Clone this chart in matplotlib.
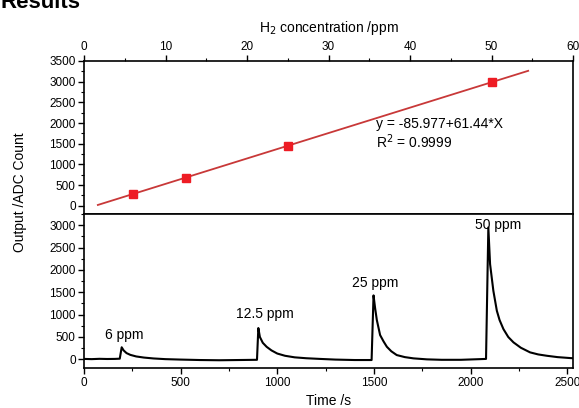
import matplotlib
matplotlib.use('Agg')
import matplotlib.pyplot as plt
from matplotlib.ticker import MultipleLocator
import numpy as np

plt.rcParams['font.family'] = ['Liberation Sans', 'DejaVu Sans']
plt.rcParams['font.size'] = 8.5

# calibration points (top panel)
conc_ppm = [6, 12.5, 25, 50]
cal_output = [282, 682, 1450, 2986]
fit_intercept = -85.977
fit_slope = 61.44
fit_range = [1.7, 54.5]

# sensor response trace (bottom panel)
time_s = [0, 40, 80, 120, 160, 185, 195, 205, 220, 240, 270, 310, 360, 420,
          500, 600, 700, 800, 895, 902, 910, 925, 945, 970, 1000, 1040, 1090,
          1150, 1220, 1300, 1400, 1488, 1498, 1506, 1515, 1532, 1550, 1567,
          1590, 1618, 1660, 1705, 1774, 1850, 1950, 2050, 2080, 2092, 2101,
          2118, 2136, 2150, 2170, 2195, 2222, 2260, 2308, 2350, 2395, 2450,
          2515, 2530]
output = [10, 5, 12, 8, 10, 15, 270, 200, 140, 100, 65, 40, 20, 5,
          -5, -15, -20, -15, -10, 700, 500, 370, 280, 200, 130, 80, 45,
          25, 10, -5, -15, -15, 1430, 1150, 880, 543, 400, 281,
          180, 96, 50, 22, 0, -10, -10, 5, 10, 2950, 2128,
          1532, 1086, 880, 677, 500, 380, 260, 156, 110, 80, 50,
          29, 25]

peak_labels = ['6 ppm', '12.5 ppm', '25 ppm', '50 ppm']
label_t = [207, 935, 1504, 2142]
label_v = [543, 1012, 1698, 3006]

fig = plt.figure(figsize=(5.79, 4.08), dpi=100)
left, right = 84 / 579, 573 / 579
ax1 = fig.add_axes([left, 0.4755, right - left, 0.8505 - 0.4755])
ax2 = fig.add_axes([left, 0.0973, right - left, 0.4755 - 0.0973])

# top: calibration
fx = np.array(fit_range)
ax1.plot(fx, fit_intercept + fit_slope * fx, color='#c83838', lw=1.3)
ax1.plot(conc_ppm, cal_output, 's', color='#ee1c24', ms=5.5, mec='#ee1c24')
ax1.set_xlim(0, 60)
ax1.set_ylim(-200, 3500)
ax1.xaxis.set_ticks_position('top')
ax1.xaxis.set_label_position('top')
ax1.xaxis.set_major_locator(MultipleLocator(10))
ax1.xaxis.set_minor_locator(MultipleLocator(5))
ax1.yaxis.set_minor_locator(MultipleLocator(250))
ax1.set_yticks([0, 500, 1000, 1500, 2000, 2500, 3000, 3500])
ax1.set_xlabel('H$_2$ concentration /ppm', fontsize=10, labelpad=6)
ax1.text(35.8, 1890, 'y = -85.977+61.44*X', fontsize=10)
ax1.text(35.8, 1400, 'R$^2$ = 0.9999', fontsize=10)

# bottom: response trace
ax2.plot(time_s, output, color='black', lw=1.5)
ax2.set_xlim(0, 2530)
ax2.set_ylim(-200, 3250)
ax2.xaxis.set_major_locator(MultipleLocator(500))
ax2.xaxis.set_minor_locator(MultipleLocator(250))
ax2.yaxis.set_minor_locator(MultipleLocator(250))
ax2.set_yticks([0, 500, 1000, 1500, 2000, 2500, 3000])
ax2.set_xlabel('Time /s', fontsize=10, labelpad=4)
for lab, t, v in zip(peak_labels, label_t, label_v):
    ax2.text(t, v, lab, fontsize=10, ha='center', va='center')

for ax in (ax1, ax2):
    for s in ax.spines.values():
        s.set_linewidth(1.2)
    ax.tick_params(which='major', direction='out', length=4, width=1, pad=2)
    ax.tick_params(which='minor', direction='out', length=2.5, width=0.8)

fig.text(20 / 579, 0.53, 'Output /ADC Count', rotation=90, fontsize=10,
         ha='center', va='center')
fig.text(0.0, 1 - 8 / 408, 'Results', fontsize=16, fontweight='bold',
         va='baseline', ha='left')

fig.savefig('out.png', dpi=100)
